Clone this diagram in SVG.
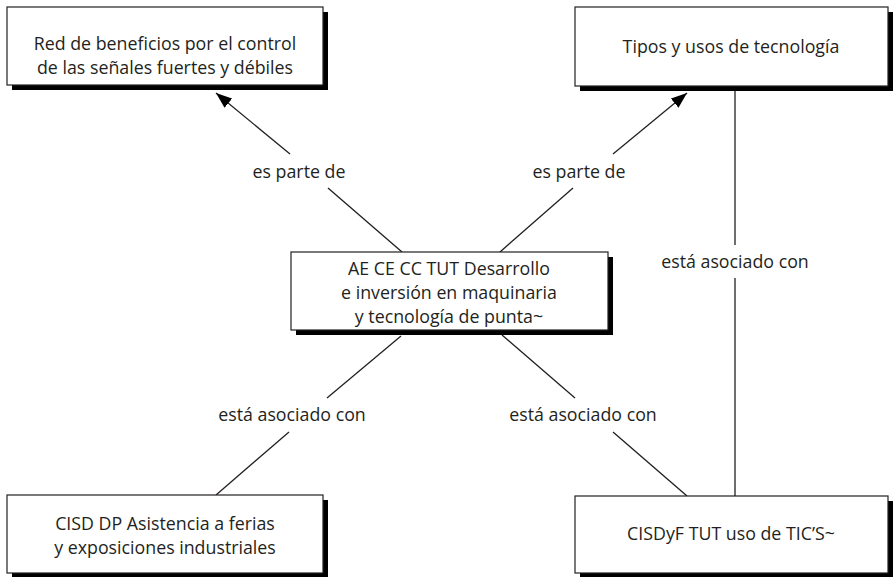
<svg xmlns="http://www.w3.org/2000/svg" width="893" height="577" viewBox="0 0 893 577">
<defs>
<style>
.box{fill:#fff;stroke:#231f20;stroke-width:1.2}
.sh{fill:#000}
.t{font-family:"Open Sans","Liberation Sans",sans-serif;font-size:17.8px;fill:#231f20;text-anchor:middle}
.ln{stroke:#231f20;stroke-width:1.3;fill:none}
</style>
<marker id="ah" viewBox="0 0 16 12" refX="16" refY="6" markerWidth="16" markerHeight="12" markerUnits="userSpaceOnUse" orient="auto">
<path d="M0,0 L16,6 L0,12 Z" fill="#000"/>
</marker>
</defs>
<rect width="893" height="577" fill="#fff"/>
<g id="connectors">
<line class="ln" x1="402" y1="252" x2="328" y2="188"/>
<line class="ln" x1="290" y1="154" x2="216" y2="93" marker-end="url(#ah)"/>
<line class="ln" x1="500" y1="252" x2="573" y2="188"/>
<line class="ln" x1="613" y1="154" x2="687" y2="93" marker-end="url(#ah)"/>
<line class="ln" x1="401" y1="336" x2="327" y2="398"/>
<line class="ln" x1="289" y1="432" x2="216" y2="495"/>
<line class="ln" x1="502" y1="335" x2="575" y2="398"/>
<line class="ln" x1="613" y1="432" x2="687" y2="496"/>
<line class="ln" x1="735" y1="91" x2="735" y2="245"/>
<line class="ln" x1="735" y1="278" x2="735" y2="496"/>
<text class="t" x="299" y="178">es parte de</text>
<text class="t" x="579" y="178">es parte de</text>
<text class="t" x="292" y="421">está asociado con</text>
<text class="t" x="583" y="421">está asociado con</text>
<text class="t" x="735" y="268">está asociado con</text>
</g>
<g id="n1">
<rect class="sh" x="12" y="12" width="316" height="78"/>
<rect class="box" x="7" y="7" width="316" height="78"/>
<text class="t" x="165" y="50">Red de beneficios por el control</text>
<text class="t" x="165" y="74">de las señales fuertes y débiles</text>
</g>
<g id="n2">
<rect class="sh" x="580" y="12" width="313" height="79"/>
<rect class="box" x="575" y="7" width="313" height="79"/>
<text class="t" x="731" y="53">Tipos y usos de tecnología</text>
</g>
<g id="n3">
<rect class="sh" x="296" y="257" width="317" height="78"/>
<rect class="box" x="291" y="252" width="317" height="78"/>
<text class="t" x="449" y="275">AE CE CC TUT Desarrollo</text>
<text class="t" x="449" y="299">e inversión en maquinaria</text>
<text class="t" x="449" y="323">y tecnología de punta~</text>
</g>
<g id="n4">
<rect class="sh" x="12" y="500" width="316" height="78"/>
<rect class="box" x="7" y="495" width="316" height="78"/>
<text class="t" x="165" y="530">CISD DP Asistencia a ferias</text>
<text class="t" x="165" y="554">y exposiciones industriales</text>
</g>
<g id="n5">
<rect class="sh" x="580" y="501" width="313" height="77"/>
<rect class="box" x="575" y="496" width="313" height="77"/>
<text class="t" x="731" y="540">CISDyF TUT uso de TIC’S~</text>
</g>
</svg>
